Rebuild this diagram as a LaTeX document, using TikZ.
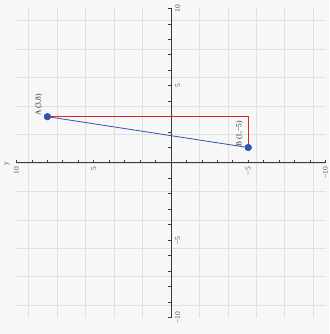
\documentclass[tikz,border=0pt]{standalone}
\usepackage{fontspec}
\setmainfont{Liberation Serif}
\definecolor{bg}{HTML}{F7F7F7}
\definecolor{gridc}{HTML}{E0E0E0}
\definecolor{axisc}{HTML}{3A3A3A}
\definecolor{labelc}{HTML}{555555}
\definecolor{redc}{HTML}{E0242C}
\definecolor{bluec}{HTML}{3450B0}
\begin{document}
\begin{tikzpicture}[x=15.45pt,y=15.45pt,
  font=\fontsize{7.5}{9}\selectfont,
  gridline/.style={gridc, line width=0.8pt},
  axisline/.style={axisc, line width=1pt},
  tickmark/.style={axisc, line width=0.8pt},
  ticklabel/.style={inner sep=0pt, text=labelc},
  axislabel/.style={inner sep=0pt, text=labelc},
  pointlabel/.style={anchor=south west, inner sep=0pt, xshift=0.5pt, yshift=5pt, text=black!85},
  dot/.style={circle, fill=bluec, inner sep=0pt, minimum size=7pt},
  segred/.style={redc, line width=0.9pt},
  segblue/.style={bluec, line width=0.8pt},
  every node/.append style={transform shape}]
\fill[bg] (-171pt,-171pt) rectangle (158pt,163pt);
\useasboundingbox (-171pt,-171pt) rectangle (158pt,163pt);
\begin{scope}[rotate=90]
  \draw[gridline] (-10,-10) grid (10,10);
  \coordinate (xmin) at (-10,0);
  \coordinate (xmax) at (10,0);
  \coordinate (ymin) at (0,-10);
  \coordinate (ymax) at (0,10);
  \draw[axisline] (xmin) -- (xmax);
  \draw[axisline] (ymin) -- (ymax);
  \foreach \i in {-10,...,-1,1,2,...,10} {
    \draw[tickmark] (\i,0) -- ++(0,3pt);
    \draw[tickmark] (0,\i) -- ++(3pt,0);
  }
  \foreach \v/\t in {-10/−10,-5/−5,5/5,10/10} {
    \node[ticklabel, anchor=north, yshift=-4pt] (xl\v) at (\v,0) {\t};
    \node[ticklabel, anchor=east, xshift=-4pt] (yl\v) at (0,\v) {\t};
  }
  \node[axislabel, xshift=9.5pt] (xlab) at (xmax) {x};
  \node[axislabel, yshift=9.5pt, xshift=-0.5pt] (ylab) at (ymax) {y};
  \node[dot] (A) at (3,8) {};
  \node[dot] (B) at (1,-5) {};
  \coordinate (C) at (3,-5);
  \draw[segred] (A.center) -- (C) -- (B.center);
  \draw[segblue] (A.center) -- (B.center);
  \node[dot] at (A) {};
  \node[dot] at (B) {};
  \node[pointlabel] (Alab) at (A.center) {A (3,8)};
  \node[pointlabel] (Blab) at (B.center) {B (1,−5)};
\end{scope}
\end{tikzpicture}
\end{document}
